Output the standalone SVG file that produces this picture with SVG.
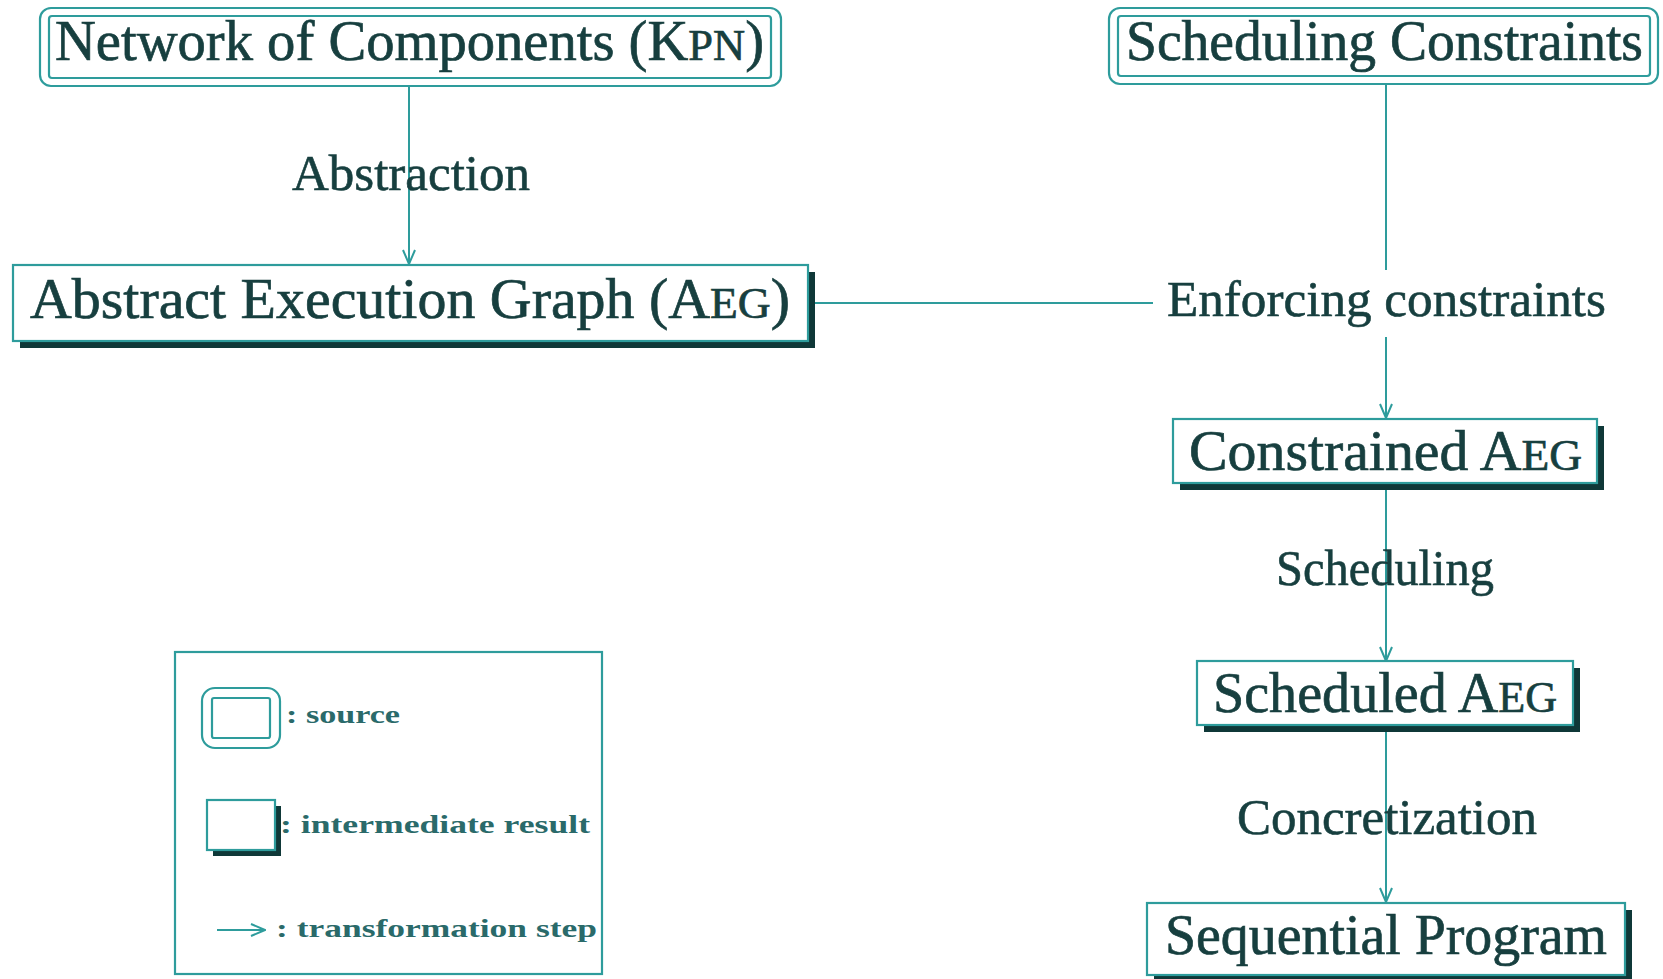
<svg xmlns="http://www.w3.org/2000/svg" width="1663" height="979" viewBox="0 0 1663 979">
  <defs>
    <style>
      .box{fill:#ffffff;stroke:#2e9c9c;stroke-width:2.2}
      .frame{fill:none;stroke:#2e9c9c;stroke-width:2.2}
      .shadow{fill:#0f3838}
      .edge{fill:none;stroke:#2e9c9c;stroke-width:2}
      .node{font-family:"Liberation Serif","Times New Roman",serif;font-size:56px;fill:#173f3f;stroke:#173f3f;stroke-width:0.7}
      .lbl{font-family:"Liberation Serif","Times New Roman",serif;font-size:50px;fill:#173f3f;stroke:#173f3f;stroke-width:0.6}
      .sc{font-size:44px}
      .leg{font-family:"Liberation Serif","Times New Roman",serif;font-weight:bold;font-size:26px;fill:#2a6a6a}
    </style>
    <marker id="arr" viewBox="0 0 16 14" refX="15" refY="7" markerWidth="16" markerHeight="14" markerUnits="userSpaceOnUse" orient="auto">
      <path d="M1,1 L15,7 L1,13" fill="none" stroke="#2e9c9c" stroke-width="2"/>
    </marker>
  </defs>

  <rect width="1663" height="979" fill="#ffffff"/>

  <!-- connectors -->
  <g id="connectors">
    <line class="edge" x1="409" y1="86" x2="409" y2="264" marker-end="url(#arr)"/>
    <line class="edge" x1="1386" y1="84" x2="1386" y2="418" marker-end="url(#arr)"/>
    <line class="edge" x1="808" y1="303" x2="1153" y2="303"/>
    <line class="edge" x1="1386" y1="490" x2="1386" y2="661" marker-end="url(#arr)"/>
    <line class="edge" x1="1386" y1="732" x2="1386" y2="902" marker-end="url(#arr)"/>
  </g>

  <!-- edge labels -->
  <g id="label-abstraction">
    <text class="lbl" x="411" y="190" text-anchor="middle" textLength="238" lengthAdjust="spacingAndGlyphs">Abstraction</text>
  </g>
  <g id="label-enforcing">
    <rect x="1155" y="270" width="464" height="67" fill="#ffffff"/>
    <text class="lbl" x="1386.5" y="316" text-anchor="middle" textLength="439" lengthAdjust="spacingAndGlyphs">Enforcing constraints</text>
  </g>
  <g id="label-scheduling">
    <text class="lbl" x="1385" y="585" text-anchor="middle" textLength="218" lengthAdjust="spacingAndGlyphs">Scheduling</text>
  </g>
  <g id="label-concretization">
    <text class="lbl" x="1387" y="834" text-anchor="middle" textLength="300" lengthAdjust="spacingAndGlyphs">Concretization</text>
  </g>

  <!-- source nodes: double frame -->
  <g id="node-kpn">
    <rect class="box" x="40" y="8" width="741" height="78" rx="11"/>
    <rect class="frame" x="49" y="16" width="722" height="62" rx="3"/>
    <text class="node" x="409.5" y="60" text-anchor="middle" textLength="709" lengthAdjust="spacingAndGlyphs">Network of Components (K<tspan class="sc">PN</tspan>)</text>
  </g>
  <g id="node-constraints">
    <rect class="box" x="1109" y="8" width="549" height="76" rx="11"/>
    <rect class="frame" x="1118" y="16" width="532" height="60" rx="3"/>
    <text class="node" x="1384.5" y="60" text-anchor="middle" textLength="517" lengthAdjust="spacingAndGlyphs">Scheduling Constraints</text>
  </g>

  <!-- intermediate nodes: shadowed frame -->
  <g id="node-aeg">
    <rect class="shadow" x="20" y="272" width="795" height="76"/>
    <rect class="box" x="13" y="265" width="795" height="76"/>
    <text class="node" x="410" y="318" text-anchor="middle" textLength="760" lengthAdjust="spacingAndGlyphs">Abstract Execution Graph (A<tspan class="sc">EG</tspan>)</text>
  </g>
  <g id="node-constrained">
    <rect class="shadow" x="1180" y="426" width="424" height="64"/>
    <rect class="box" x="1173" y="419" width="424" height="64"/>
    <text class="node" x="1385.5" y="470" text-anchor="middle" textLength="393" lengthAdjust="spacingAndGlyphs">Constrained A<tspan class="sc">EG</tspan></text>
  </g>
  <g id="node-scheduled">
    <rect class="shadow" x="1204" y="668" width="376" height="64"/>
    <rect class="box" x="1197" y="661" width="376" height="64"/>
    <text class="node" x="1385" y="712" text-anchor="middle" textLength="344" lengthAdjust="spacingAndGlyphs">Scheduled A<tspan class="sc">EG</tspan></text>
  </g>
  <g id="node-sequential">
    <rect class="shadow" x="1154" y="910" width="478" height="72"/>
    <rect class="box" x="1147" y="903" width="478" height="72"/>
    <text class="node" x="1386" y="954" text-anchor="middle" textLength="442" lengthAdjust="spacingAndGlyphs">Sequential Program</text>
  </g>

  <!-- legend -->
  <g id="legend">
    <rect class="frame" x="175" y="652" width="427" height="322"/>
    <rect class="box" x="202" y="688" width="78" height="60" rx="13"/>
    <rect class="frame" x="212" y="698" width="58" height="40" rx="2"/>
    <text class="leg" x="286" y="723" textLength="114" lengthAdjust="spacingAndGlyphs">: source</text>
    <text class="leg" x="280" y="833" textLength="310" lengthAdjust="spacingAndGlyphs">: intermediate result</text>
    <rect class="shadow" x="213" y="806" width="68" height="50"/>
    <rect class="box" x="207" y="800" width="68" height="50"/>
    <line class="edge" x1="217" y1="930" x2="265" y2="930" marker-end="url(#arr)"/>
    <text class="leg" x="276" y="937" textLength="321" lengthAdjust="spacingAndGlyphs">: transformation step</text>
  </g>
</svg>
